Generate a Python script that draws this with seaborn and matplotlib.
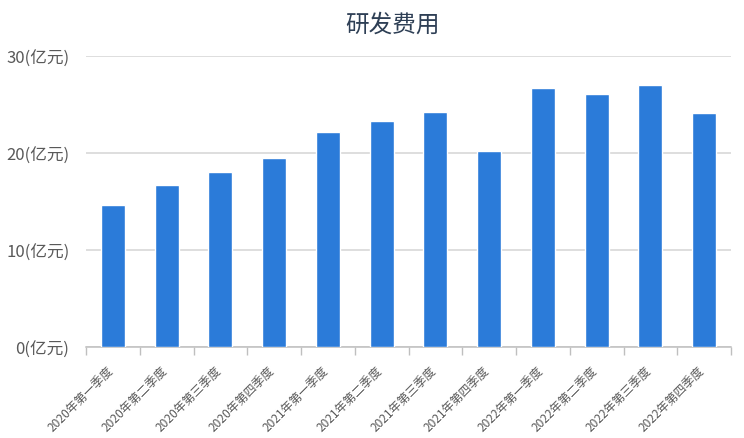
import matplotlib
matplotlib.use("Agg")
import matplotlib.pyplot as plt
import matplotlib.transforms as mtransforms
import seaborn as sns
import pandas as pd
import numpy as np

categories = ["2020年第一季度", "2020年第二季度", "2020年第三季度", "2020年第四季度",
              "2021年第一季度", "2021年第二季度", "2021年第三季度", "2021年第四季度",
              "2022年第一季度", "2022年第二季度", "2022年第三季度", "2022年第四季度"]
values = [14.6, 16.7, 18.0, 19.5, 22.2, 23.3, 24.2, 20.2, 26.7, 26.1, 27.0, 24.1]
y_ticks = [0, 10, 20, 30]
y_tick_labels = ["0(亿元)", "10(亿元)", "20(亿元)", "30(亿元)"]
title = "研发费用"

sns.set_theme(style="white")
plt.rcParams['font.family'] = ['Noto Sans CJK SC', 'DejaVu Sans']

df = pd.DataFrame({"category": categories, "value": values})

fig = plt.figure(figsize=(7.44, 4.39), dpi=100)
ax = fig.add_axes([86/744, 1-348/439, (731-86)/744, (348-57)/439])

sns.barplot(data=df, x="category", y="value", color="#2B7BD9", saturation=1,
            width=0.45, ax=ax, zorder=3)
ax.set_xlim(-0.5, len(categories)-0.5)
ax.set_ylim(0, 30)
ax.set_xlabel("")
ax.set_ylabel("")

ax.set_yticks(y_ticks)
ax.set_yticklabels(y_tick_labels, fontsize=12, color="#595959")
ax.tick_params(axis='y', length=0, pad=12)
ax.yaxis.grid(True, color="#D4D4D4", linewidth=1.1, zorder=0)
ax.set_axisbelow(True)

ax.set_xticks(range(len(categories)))
ax.set_xticklabels(categories, rotation=45, ha='right', fontsize=8.6, color="#595959")
ax.tick_params(axis='x', which='major', length=0, pad=12)
offset = mtransforms.ScaledTranslation(3/100, 0, fig.dpi_scale_trans)
for lbl in ax.get_xticklabels():
    lbl.set_transform(lbl.get_transform() + offset)
ax.set_xticks(np.arange(-0.5, len(categories), 1.0), minor=True)
ax.tick_params(axis='x', which='minor', length=6, width=1, color="#BFBFBF", bottom=True)

for s in ["top", "right", "left"]:
    ax.spines[s].set_visible(False)
ax.spines["bottom"].set_color("#BFBFBF")
ax.spines["bottom"].set_linewidth(1.1)

fig.text(392/744, 1-25/439, title, ha='center', va='center', fontsize=17, color="#2E3F55")

fig.savefig("out.png", dpi=100)
